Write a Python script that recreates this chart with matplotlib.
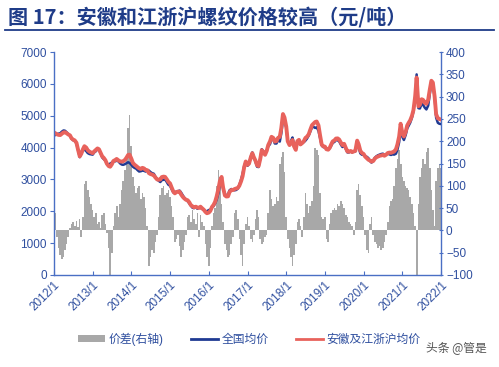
import matplotlib
matplotlib.use('Agg')
import matplotlib.pyplot as plt
import matplotlib.dates as mdates
from matplotlib.patches import Patch
from matplotlib.lines import Line2D
import numpy as np
import pandas as pd

plt.rcParams['font.family'] = ['Liberation Sans', 'Noto Sans CJK SC', 'DejaVu Sans']

# semi-monthly observations, 2012/1 .. 2022/1
dates = pd.date_range('2012-01-01', periods=241, freq='SMS')

# national average price (yuan/t)
national = [
    4360, 4410, 4430, 4440, 4450, 4500, 4540, 4530, 4480, 4430, 4380, 4280,
    4230, 4220, 4130, 3940, 3700, 3820, 3920, 3940, 3890, 3830, 3800, 3790,
    3780, 3850, 3890, 3960, 3930, 3840, 3690, 3640, 3590, 3500, 3460, 3500,
    3530, 3570, 3570, 3590, 3570, 3510, 3470, 3460, 3480, 3510, 3540, 3520,
    3460, 3400, 3360, 3340, 3290, 3250, 3260, 3280, 3270, 3250, 3280, 3280,
    3230, 3200, 3180, 3090, 3010, 2960, 2920, 2980, 2990, 3000, 2920, 2840,
    2800, 2700, 2590, 2590, 2620, 2630, 2650, 2590, 2500, 2430, 2370, 2320,
    2250, 2180, 2110, 2100, 2130, 2080, 2120, 2110, 2070, 2040, 2010, 2000,
    2040, 2050, 2130, 2160, 2250, 2360, 2570, 2840, 3020, 2730, 2530, 2510,
    2530, 2660, 2700, 2680, 2660, 2670, 2710, 2820, 3000, 3180, 3430, 3550,
    3430, 3490, 3720, 3850, 3710, 3580, 3400, 3390, 3670, 3950, 3880, 3790,
    3910, 4040, 4110, 4270, 4250, 4130, 4130, 4240, 4190, 4440, 4880, 4820,
    4630, 4220, 4120, 4210, 4320, 4100, 3960, 4180, 4220, 4090, 4160, 4170,
    4220, 4280, 4380, 4500, 4640, 4650, 4620, 4640, 4530, 4320, 4070, 4020,
    4000, 3970, 3960, 3980, 4060, 4150, 4180, 4240, 4230, 4200, 4090, 4020,
    4070, 3970, 3850, 3850, 3880, 3850, 3890, 3880, 4130, 4000, 3820, 3780,
    3770, 3730, 3710, 3670, 3580, 3530, 3590, 3680, 3730, 3760, 3780, 3800,
    3810, 3770, 3790, 3810, 3790, 3770, 3790, 3780, 3810, 3940, 4170, 4600,
    4330, 4240, 4400, 4600, 4690, 4780, 4940, 5140, 5590, 6300, 5240, 5230,
    5380, 5340, 5250, 5200, 5320, 5660, 6010, 6000, 5590, 4940, 4780, 4750,
    4740,
]

# Anhui & Jiangsu/Zhejiang/Shanghai minus national (yuan/t)
spread = [
    120, 40, -15, -40, -55, -65, -60, -45, -30, -15, 5, 15,
    20, 10, 22, 8, 25, -15, 30, 105, 110, 90, 75, 60,
    45, 30, 40, 15, 20, 5, 35, 40, 15, -5, -40, -100,
    -50, 10, 40, 55, 30, 60, 90, 110, 135, 170, 230, 260,
    190, 120, 100, 85, 95, 100, 70, 85, 75, 50, 10, -80,
    -60, -45, -50, -25, -10, 30, 80, 95, 100, 80, 85, 90,
    75, 55, 30, -25, -20, -10, -35, -60, -45, -25, -10, 30,
    35, 20, 45, 25, 15, 40, -15, 35, 20, 10, -30, -60,
    -80, -40, 10, 40, 50, 100, 135, 110, 60, 20, -30, -45,
    -60, -55, -30, -15, 40, 45, 25, -20, -55, -80, -30, 15,
    30, 10, -20, -25, -10, 25, 45, 30, -20, -30, -25, -15,
    -10, 40, 90, 70, 55, 60, 75, 65, 150, 165, 175, 130,
    30, -20, -40, -60, -80, -55, -30, 20, 25, 10, -15, 30,
    85, 60, 40, 55, 65, 100, 185, 180, 170, 85, 30, 25,
    30, -20, -25, 15, 40, 45, 50, 45, 60, 55, 65, 60,
    50, 35, 30, 20, 15, 10, -10, 20, 90, 105, 80, 55,
    30, -10, -45, -50, 15, 30, -10, -25, -30, -40, -35, -45,
    -40, -25, -10, 20, 55, 65, 70, 100, 140, 160, 180, 150,
    120, 110, 100, 95, 90, 75, 60, 40, 10, -100, 60, 120,
    140, 160, 150, 175, 185, 140, 90, 45, 10, 110, 140, 150,
    140,
]

regional = np.array(national) + np.array(spread)

year_ticks = pd.date_range('2012-01-01', '2022-01-01', freq='YS')
year_labels = [f'{d.year}/1' for d in year_ticks]

axis_blue = '#4a6fc4'
text_blue = '#2f4f9f'
title_blue = '#1f3c88'
gray = '#a8a8a8'
navy = '#1f3a93'
red = '#e8625c'

fig = plt.figure(figsize=(4.99, 3.67), dpi=100)
ax = fig.add_axes([0.108, 0.2507, 0.776, 0.6073])
ax2 = ax.twinx()

ax2.fill_between(dates, 0, spread, step='mid', color=gray, linewidth=0)
ax.plot(dates, national, color=navy, linewidth=1.8)
ax.plot(dates, regional, color=red, linewidth=2.8)

ax.set_zorder(ax2.get_zorder() + 1)
ax.patch.set_visible(False)

ax.set_xlim(dates[0], dates[-1])
ax.set_ylim(0, 7000)
ax.set_yticks(np.arange(0, 7001, 1000))
ax2.set_ylim(-100, 400)
ax2.set_yticks(np.arange(-100, 401, 50))
ax.set_xticks(year_ticks)
ax.set_xticklabels(year_labels, rotation=45, ha='right', rotation_mode='anchor')

for a in (ax, ax2):
    a.spines['top'].set_visible(False)
    for s in ('left', 'right', 'bottom'):
        a.spines[s].set_color(axis_blue)
        a.spines[s].set_linewidth(1.0)
ax.spines['right'].set_visible(False)
ax2.spines['left'].set_visible(False)
ax2.spines['bottom'].set_visible(False)

ax.tick_params(axis='y', colors=axis_blue, labelcolor=text_blue, labelsize=8.5,
               length=3, direction='out', pad=2)
ax.tick_params(axis='x', colors=axis_blue, labelcolor=text_blue, labelsize=8.5,
               length=3, direction='in', pad=3)
ax2.tick_params(axis='y', colors=axis_blue, labelcolor=text_blue, labelsize=8.5,
                length=3, direction='inout', pad=2)

handles = [
    Patch(facecolor=gray, edgecolor='none'),
    Line2D([], [], color=navy, linewidth=2),
    Line2D([], [], color=red, linewidth=2),
]
labels = ['价差(右轴)', '全国均价', '安徽及江浙沪均价']
leg = fig.legend(handles, labels, loc='center', bbox_to_anchor=(0.5, 0.076), ncol=3,
                 frameon=False, fontsize=8.5, handlelength=2.3, handleheight=0.5,
                 columnspacing=2.3, handletextpad=0.3)
for t in leg.get_texts():
    t.set_color(text_blue)

fig.text(0.016, 0.952, '图 17：安徽和江浙沪螺纹价格较高（元/吨）', fontsize=14.5,
         fontweight='bold', color=title_blue, ha='left', va='center',
         family=['Noto Sans CJK SC', 'DejaVu Sans'])
fig.add_artist(Line2D([0.01, 0.99], [0.917, 0.917], color=title_blue, linewidth=1.3))

fig.text(0.975, 0.052, '头条 @管是', fontsize=8.5, color='#555555', ha='right', va='center',
         family=['Noto Sans CJK SC', 'DejaVu Sans'])

fig.savefig('out.png', dpi=100)
